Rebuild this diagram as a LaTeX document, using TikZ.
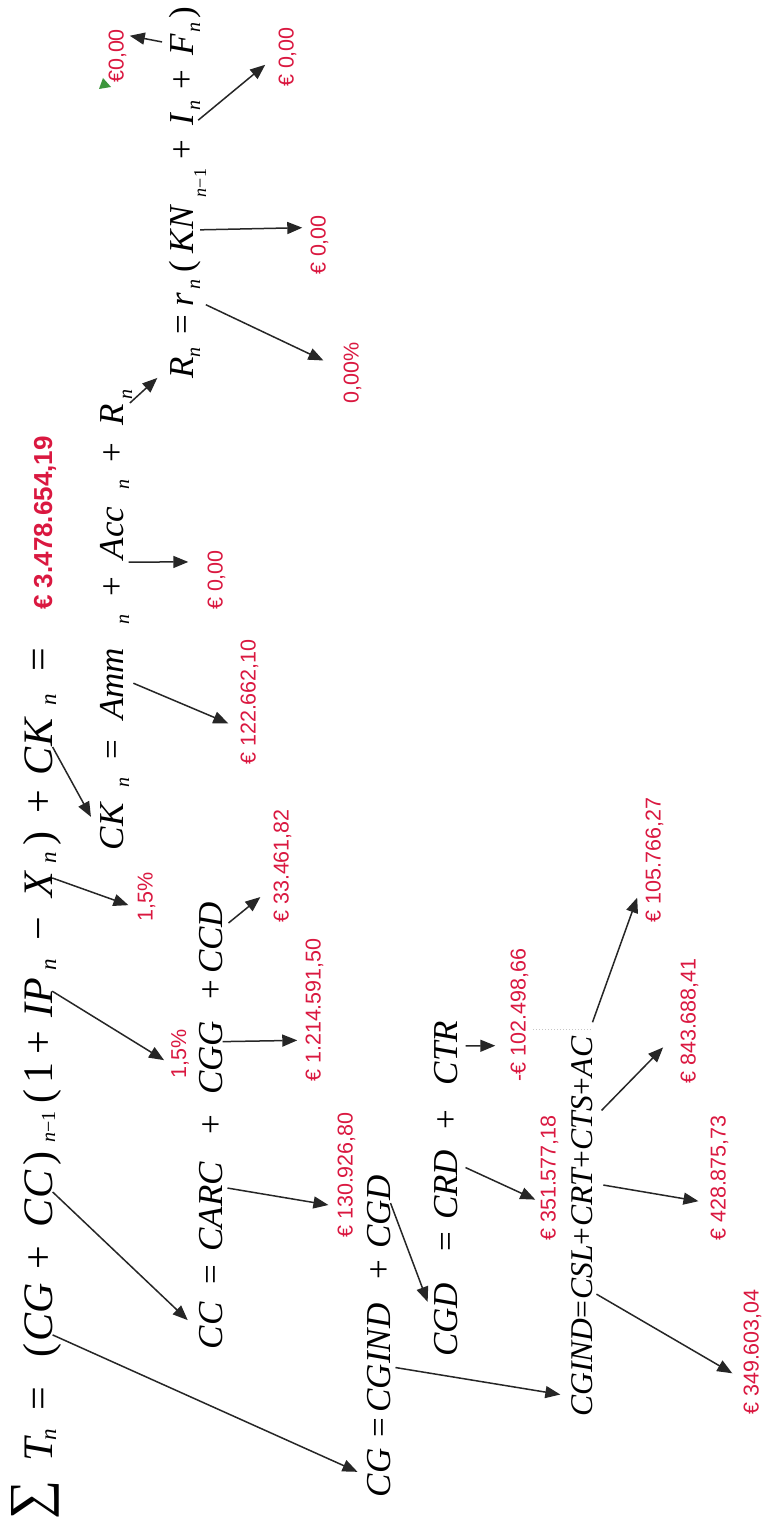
\documentclass[tikz,border=0pt]{standalone}
\usepackage{fontspec}
\setmainfont{Liberation Serif}
\newfontfamily\lsans{Liberation Sans}
\usetikzlibrary{arrows.meta,calc}
\definecolor{valred}{RGB}{218,24,64}
\definecolor{ink}{RGB}{38,38,38}
\definecolor{flag}{RGB}{60,150,60}

\tikzset{
  tok/.style={inner sep=0pt, anchor=base, text=black},
  bigit/.style={tok, font=\fontsize{42}{42}\selectfont\itshape},
  bigup/.style={tok, font=\fontsize{42}{42}\selectfont},
  bigsub/.style={tok, font=\fontsize{23}{23}\selectfont\itshape},
  bigsubup/.style={tok, font=\fontsize{20}{20}\selectfont},
  midit/.style={tok, font=\fontsize{35}{35}\selectfont\itshape},
  midup/.style={tok, font=\fontsize{35}{35}\selectfont},
  midsub/.style={tok, font=\fontsize{20}{20}\selectfont\itshape},
  midsubup/.style={tok, font=\fontsize{18}{18}\selectfont},
  smit/.style={tok, anchor=base west, font=\fontsize{31.6}{31.6}\selectfont\itshape},
  smup/.style={tok, anchor=base west, font=\fontsize{31.6}{31.6}\selectfont},
  sumsign/.style={inner sep=0pt, anchor=center, font=\fontsize{55}{55}\selectfont},
  val/.style={inner sep=0pt, anchor=base, text=valred, font=\lsans\fontsize{21.5}{21.5}\selectfont},
  valbig/.style={val, font=\lsans\bfseries\fontsize{26}{26}\selectfont},
  conn/.style={draw=ink, line width=1.5pt, -{Triangle[length=15pt,width=12pt]}},
}

\begin{document}
\begin{tikzpicture}[x=1pt,y=1pt]
\fill[white] (0,0) rectangle (761,1530);
\useasboundingbox (0,0) rectangle (761,1530);

% the sheet is laid out sideways: reading frame (X to the right, Y downwards)
\begin{scope}[rotate=90, transform shape]

% ---- total cost
\node[sumsign] (l1sum) at (30,-35) {∑};
\node[bigit] (l1T) at (80,-52) {T};
\node[bigsub] (l1Tn) at (95,-56) {n};
\node[bigup] (l1eq) at (131,-52) {=};
\node[bigup] (l1lp) at (179,-52) {(};
\node[bigit] (l1CG) at (218,-52) {CG};
\node[bigup] (l1plus) at (272,-52) {+};
\node[bigit] (l1CC) at (331,-52) {CC};
\node[bigup] (l1rp) at (371,-52) {)};
\node[bigsubup] (l1sub) at (403,-55) {\textit{n}−1};
\node[bigup] (l1lpb) at (433,-52) {(};
\node[bigup] (l1one) at (457,-52) {1};
\node[bigup] (l1plusb) at (487,-52) {+};
\node[bigit] (l1IP) at (532,-52) {IP};
\node[bigsub] (l1IPn) at (565,-56) {n};
\node[bigup] (l1minus) at (601,-52) {−};
\node[bigit] (l1X) at (645,-52) {X};
\node[bigsub] (l1Xn) at (672,-56) {n};
\node[bigup] (l1rpb) at (691,-52) {)};
\node[bigup] (l1plusc) at (728,-52) {+};
\node[bigit] (l1CK) at (783,-52) {CK};
\node[bigsub] (l1CKn) at (830,-56) {n};
\node[bigup] (l1eqb) at (870,-52) {=};
\node[valbig] (v3478) at (1007,-52) {€ 3.478.654,19};

% ---- CC
\node[midit] (l2CC) at (204,-222) {CC};
\node[midup] (l2eq) at (255,-222) {=};
\node[midit] (l2CARC) at (323,-222) {CARC};
\node[midup] (l2plus) at (405,-222) {+};
\node[midit] (l2CGG) at (472,-222) {CGG};
\node[midup] (l2plusb) at (540,-222) {+};
\node[midit] (l2CCD) at (592,-222) {CCD};

% ---- CK
\node[midit] (l3CK) at (703,-123) {CK};
\node[midsub] (l3CKn) at (747,-129) {n};
\node[midup] (l3eq) at (780,-123) {=};
\node[midit] (l3Amm) at (846,-123) {Amm};
\node[midsub] (l3Ammn) at (910,-129) {n};
\node[midup] (l3plus) at (943,-123) {+};
\node[midit] (l3Acc) at (997,-123) {Acc};
\node[midsub] (l3Accn) at (1045,-129) {n};
\node[midup] (l3plusb) at (1077,-123) {+};
\node[midit] (l3R) at (1115,-123) {R};
\node[midsub] (l3Rn) at (1135,-132) {n};

% ---- R
\node[midit] (l4R) at (1162,-193) {R};
\node[midsub] (l4Rn) at (1177,-200) {n};
\node[midup] (l4eq) at (1205,-193) {=};
\node[midit] (l4r) at (1230,-193) {r};
\node[midsub] (l4rn) at (1245,-200) {n};
\node[midup] (l4lp) at (1263,-193) {(};
\node[midit] (l4KN) at (1300,-193) {KN};
\node[midsubup] (l4sub) at (1347,-206) {\textit{n}−1};
\node[midup] (l4plus) at (1380,-193) {+};
\node[midit] (l4I) at (1410,-193) {I};
\node[midsub] (l4In) at (1424,-200) {n};
\node[midup] (l4plusb) at (1450,-193) {+};
\node[midit] (l4F) at (1485,-193) {F};
\node[midsub] (l4Fn) at (1502,-200) {n};
\node[midup] (l4rp) at (1517,-193) {)};

% ---- CG
\node[midit] (l5CG) at (57,-390) {CG};
\node[midup] (l5eq) at (102,-390) {=};
\node[midit] (l5CGIND) at (172,-390) {CGIND};
\node[midup] (l5plus) at (260,-390) {+};
\node[midit] (l5CGD) at (318,-390) {CGD};

% ---- CGD
\node[midit] (l6CGD) at (210,-457) {CGD};
\node[midup] (l6eq) at (288,-457) {=};
\node[midit] (l6CRD) at (345,-457) {CRD};
\node[midup] (l6plus) at (410,-457) {+};
\node[midit] (l6CTR) at (477,-457) {CTR};

% ---- CGIND (set tight, piece after piece)
\node[smit] (l7CGIND) at (113,-592) {CGIND};
\node[smup] (l7eq) at (l7CGIND.base east) {=};
\node[smit] (l7CSL) at (l7eq.base east) {CSL};
\node[smup] (l7p1) at (l7CSL.base east) {+};
\node[smit] (l7CRT) at (l7p1.base east) {CRT};
\node[smup] (l7p2) at (l7CRT.base east) {+};
\node[smit] (l7CTS) at (l7p2.base east) {CTS};
\node[smup] (l7p3) at (l7CTS.base east) {+};
\node[smit] (l7AC) at (l7p3.base east) {AC};
\draw[gray!45, line width=1pt, dotted] (500,-533) -- (500,-592);

% ---- values
\node[val] (v15a) at (476,-186) {1,5\%};
\node[val] (v15b) at (633,-152.5) {1,5\%};
\node[val] (v130) at (355,-352.5) {€ 130.926,80};
\node[val] (v1214) at (520,-320.5) {€ 1.214.591,50};
\node[val] (v33) at (664,-288.5) {€ 33.461,82};
\node[val] (v122) at (828,-255.5) {€ 122.662,10};
\node[val] (v000a) at (950,-222.5) {€ 0,00};
\node[val] (v0pct) at (1157,-358.5) {0,00\%};
\node[val] (v000b) at (1285,-325.5) {€ 0,00};
\node[val] (v000c) at (1473,-293.5) {€ 0,00};
\node[val] (v000d) at (1474,-123.5) {€0,00};
\fill[flag] (1441,-99) -- (1443,-111) -- (1452,-103) -- cycle;
\node[val] (v351) at (352,-555.5) {€ 351.577,18};
\node[val] (v102) at (515,-525.5) {-€ 102.498,66};
\node[val] (v349) at (178,-758.5) {€ 349.603,04};
\node[val] (v428) at (352,-725.5) {€ 428.875,73};
\node[val] (v843) at (509,-695.5) {€ 843.688,41};
\node[val] (v105) at (670,-660.5) {€ 105.766,27};

% ---- connectors
\draw[conn, shorten >=10pt] ($(l1CG.south west)!0.11!(l1CG.south east)$) -- ($(l5CG.north west)!0.44!(l5CG.north east)$);
\draw[conn, shorten >=15pt] ($(l1CC.south west)!0.625!(l1CC.south east)$) -- ($(l2CC.north west)!0.405!(l2CC.north east)$);
\draw[conn, shorten <=5pt, shorten >=9pt] ($(l2CARC.south west)!0.72!(l2CARC.south east)$) -- ($(v130.north west)!0.25!(v130.north east)$);
\draw[conn, shorten >=8pt] ($(l1IP.south west)!0.67!(l1IP.south east)$) -- ($(v15a.north west)!0.29!(v15a.north east)$);
\draw[conn, shorten >=9.5pt] ($(l1X.south west)!0.77!(l1X.south east)$) -- ($(v15b.north west)!0.27!(v15b.north east)$);
\draw[conn, shorten >=18pt] ($(l1CK.south west)!0.5!(l1CK.south east)$) -- ($(l3CK.north west)!0.38!(l3CK.north east)$);
\draw[conn, shorten <=11pt, shorten >=13pt] ($(l3Amm.south west)!0.57!(l3Amm.south east)$) -- ($(v122.north west)!0.29!(v122.north east)$);
\draw[conn, shorten <=5pt, shorten >=19pt] ($(l3Acc.south west)!-0.05!(l3Acc.south east)$) -- ($(v000a.north west)!0.8!(v000a.north east)$);
\draw[conn, shorten <=9pt, shorten >=17pt] ($(l3R.south west)!0.77!(l3R.south east)$) -- ($(l4R.north west)!0.57!(l4R.north east)$);
\draw[conn, shorten <=14pt, shorten >=22pt] ($(l4r.south west)!0.59!(l4r.south east)$) -- ($(v0pct.north west)!0.55!(v0pct.north east)$);
\draw[conn, shorten <=7pt, shorten >=8pt] ($(l4KN.south west)!0.5!(l4KN.south east)$) -- ($(v000b.north west)!0.79!(v000b.north east)$);
\draw[conn, shorten <=6.5pt, shorten >=17pt] ($(l4I.south west)!0.14!(l4I.south east)$) -- ($(v000c.north west)!0.55!(v000c.north east)$);
\draw[conn, shorten <=8pt, shorten >=3.4pt] ($(l4F.north west)!0.57!(l4F.north east)$) -- ($(v000d.south west)!0.885!(v000d.south east)$);
\draw[conn, shorten >=8pt] ($(l2CGG.south west)!0.72!(l2CGG.south east)$) -- ($(v1214.north west)!0.29!(v1214.north east)$);
\draw[conn, shorten <=7.7pt, shorten >=16.7pt] ($(l2CCD.south west)!0.64!(l2CCD.south east)$) -- ($(v33.north west)!0.32!(v33.north east)$);
\draw[conn, shorten >=17pt] ($(l5CGD.south west)!0.62!(l5CGD.south east)$) -- ($(l6CGD.north west)!0.53!(l6CGD.north east)$);
\draw[conn, shorten <=5pt, shorten >=10.7pt] ($(l5CGIND.south west)!0.42!(l5CGIND.south east)$) -- ($(l7CGIND.north west)!0.21!(l7CGIND.north east)$);
\draw[conn, shorten <=8.8pt, shorten >=5.5pt] ($(l6CRD.south west)!0.8!(l6CRD.south east)$) -- ($(v351.north west)!0.31!(v351.north east)$);
\draw[conn, shorten <=8pt, shorten >=15pt] ($(l6CTR.south west)!0.61!(l6CTR.south east)$) -- ($(v102.north west)!0.27!(v102.north east)$);
\draw[conn, shorten <=4.6pt, shorten >=12.7pt] ($(l7CSL.south west)!0.15!(l7CSL.south east)$) -- ($(v349.north west)!0.28!(v349.north east)$);
\draw[conn, shorten <=11pt, shorten >=12pt] ($(l7CRT.south west)!0.75!(l7CRT.south east)$) -- ($(v428.north west)!0.30!(v428.north east)$);
\draw[conn, shorten <=13pt, shorten >=24.6pt] ($(l7CTS.south west)!0.56!(l7CTS.south east)$) -- ($(v843.north west)!0.43!(v843.north east)$);
\draw[conn, shorten >=24pt] ($(l7AC.south west)!1.35!(l7AC.south east)$) -- ($(v105.north west)!0.38!(v105.north east)$);

\end{scope}
\end{tikzpicture}
\end{document}
